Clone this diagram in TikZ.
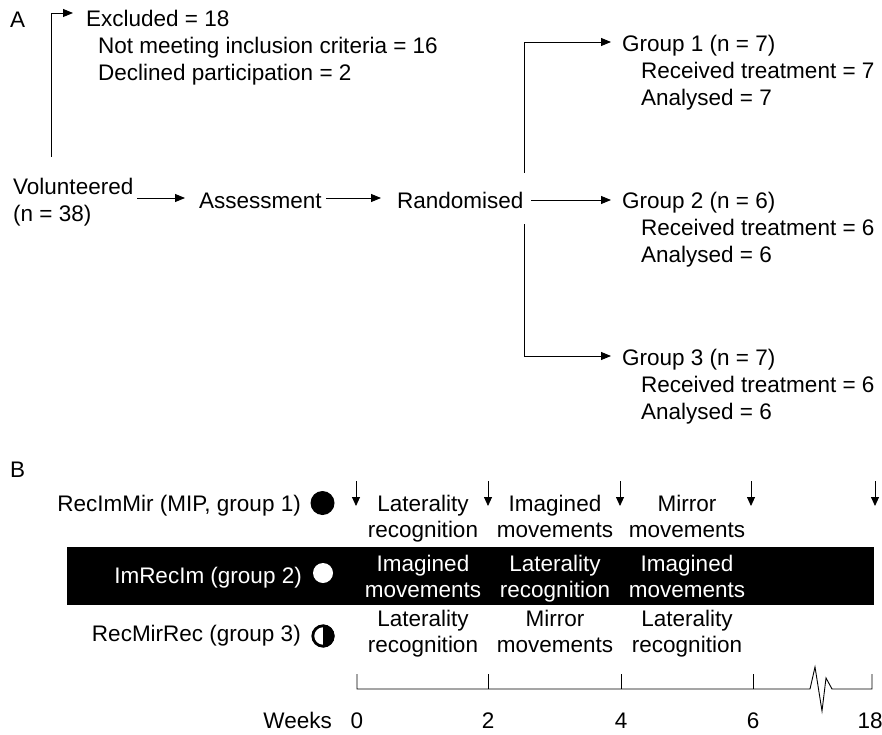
\documentclass[tikz,border=0pt]{standalone}
\usepackage{fontspec}
\setmainfont{Liberation Sans}
\usetikzlibrary{arrows.meta}
\begin{document}
\begin{tikzpicture}[x=1pt,y=-1pt,
  every node/.style={font=\fontsize{22.5}{26}\selectfont, inner sep=0pt, anchor=base west},
  cen/.style={anchor=base},
  arr/.style={-{Triangle[length=10pt,width=8pt]}, line width=0.9pt},
  ln/.style={line width=0.9pt},
  darr/.style={-{Triangle[length=9pt,width=8pt]}, line width=0.9pt}]
\useasboundingbox (0,0) rectangle (882,735);
% Panel A
\node (A) at (10,28) {A};
\node (vol) at (13,195) {Volunteered};
\node (n38) at (13,222) {(n = 38)};
\node (ass) at (199,208) {Assessment};
\node (ran) at (397,208) {Randomised};
\node (exc) at (86,27) {Excluded = 18};
\node (exc1) at (98,54) {Not meeting inclusion criteria = 16};
\node (exc2) at (98,81) {Declined participation = 2};
\coordinate (v0) at (51,157);
\coordinate (e0) at (73,13);
\draw[arr] (v0) |- (e0);
\coordinate (va) at (137,198);
\coordinate (vb) at (185,198);
\draw[arr] (va) -- (vb);
\coordinate (aa) at (326,198);
\coordinate (ab) at (381,198);
\draw[arr] (aa) -- (ab);
\node (g1) at (622,52) {Group 1 (n = 7)};
\node (g1a) at (641,79) {Received treatment = 7};
\node (g1b) at (641,106) {Analysed = 7};
\node (g2) at (622,208) {Group 2 (n = 6)};
\node (g2a) at (641,235) {Received treatment = 6};
\node (g2b) at (641,262) {Analysed = 6};
\node (g3) at (622,365) {Group 3 (n = 7)};
\node (g3a) at (641,392) {Received treatment = 6};
\node (g3b) at (641,419) {Analysed = 6};
\coordinate (r1) at (524,173);
\coordinate (r3) at (524,224);
\coordinate (h1) at (611,42);
\coordinate (h2) at (611,200);
\coordinate (h3) at (611,356);
\coordinate (r2) at (531,200);
\draw[arr] (r1) |- (h1);
\draw[arr] (r2) -- (h2);
\draw[arr] (r3) |- (h3);
% Panel B
\node (B) at (10,477) {B};
\fill (67,547) rectangle (874,605);
\node[anchor=base east] (grp1) at (301,511) {RecImMir (MIP, group 1)};
\node[anchor=base east, text=white] (grp2) at (302,583) {ImRecIm (group 2)};
\node[anchor=base east] (grp3) at (301,641) {RecMirRec (group 3)};
\fill (322.5,503) circle (12);
\fill[white] (323,573) circle (10);
\draw[line width=2.8pt] (323,636) circle (10.2);
\fill (323,624.5) arc[start angle=90, end angle=-90, radius=11.5pt] -- cycle;
% arrows
\foreach \x/\n in {356/a0,488/a2,620/a4,751/a6,875/a18}{
  \coordinate (\n t) at (\x,481);
  \coordinate (\n b) at (\x,506);
  \draw[darr] (\n t) -- (\n b);
}
% activities
\node[cen] (c11a) at (423,511) {Laterality};
\node[cen] (c11b) at (423,537) {recognition};
\node[cen] (c12a) at (555,511) {Imagined};
\node[cen] (c12b) at (555,537) {movements};
\node[cen] (c13a) at (687,511) {Mirror};
\node[cen] (c13b) at (687,537) {movements};
\node[cen, text=white] (c21a) at (423,571) {Imagined};
\node[cen, text=white] (c21b) at (423,597) {movements};
\node[cen, text=white] (c22a) at (555,571) {Laterality};
\node[cen, text=white] (c22b) at (555,597) {recognition};
\node[cen, text=white] (c23a) at (687,571) {Imagined};
\node[cen, text=white] (c23b) at (687,597) {movements};
\node[cen] (c31a) at (423,626) {Laterality};
\node[cen] (c31b) at (423,652) {recognition};
\node[cen] (c32a) at (555,626) {Mirror};
\node[cen] (c32b) at (555,652) {movements};
\node[cen] (c33a) at (687,626) {Laterality};
\node[cen] (c33b) at (687,652) {recognition};
% timeline
\coordinate (t0) at (357,689);
\coordinate (t2) at (488,689);
\coordinate (t4) at (621,689);
\coordinate (t6) at (753,689);
\coordinate (t18) at (872,689);
\draw[ln] (357,674) -- (t0) -- (t2) -- (t4) -- (t6) -- (810,689) -- (815,667) -- (822,711) -- (826,678) -- (832,689) -- (t18) -- (872,674);
\foreach \c in {t2,t4,t6}{ \draw[ln] (\c) -- ++(0,-15); }
\node[anchor=base east] (wk) at (332,728) {Weeks};
\node[cen] (w0) at (357,728) {0};
\node[cen] (w2) at (488,728) {2};
\node[cen] (w4) at (621,728) {4};
\node[cen] (w6) at (753,728) {6};
\node[cen] (w18) at (870,728) {18};
\end{tikzpicture}
\end{document}
